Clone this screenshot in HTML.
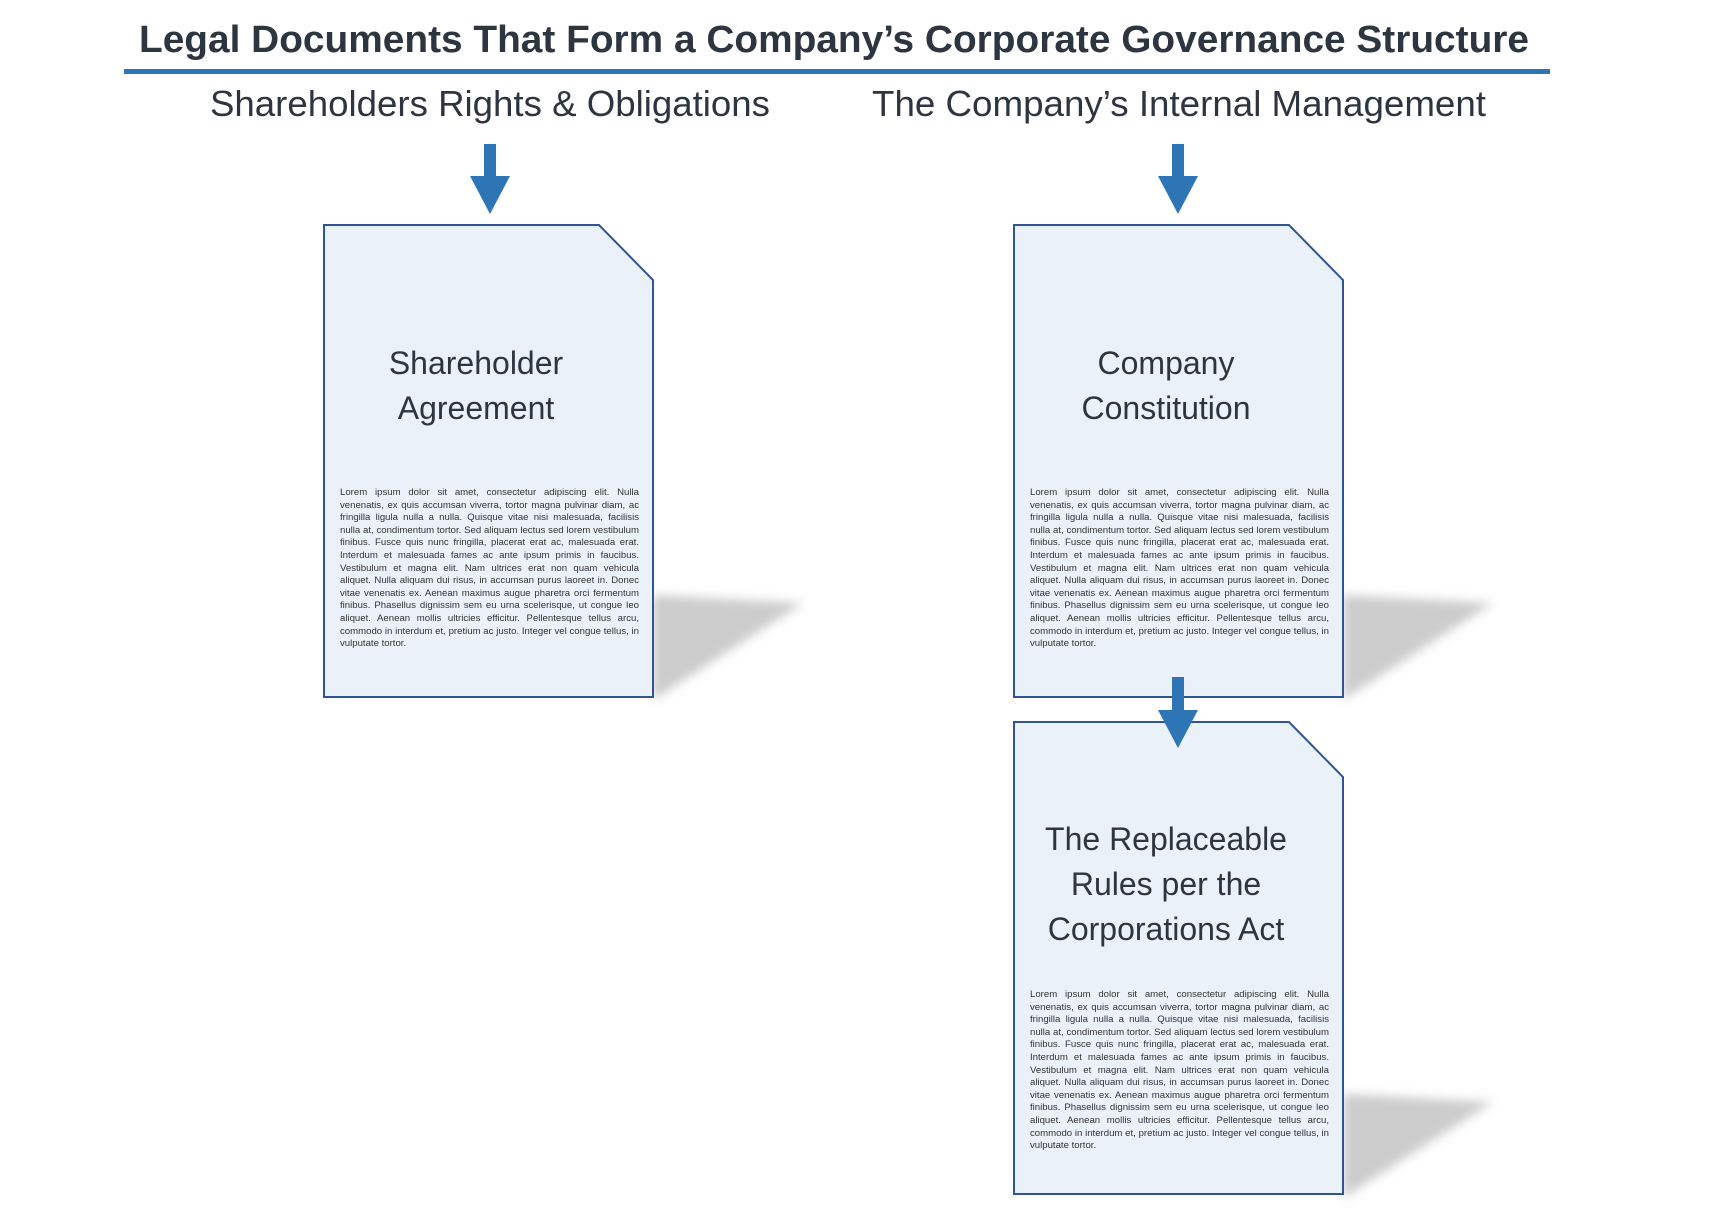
<!DOCTYPE html>
<html><head><meta charset="utf-8"><style>
html,body{margin:0;padding:0;background:#fff;}
#c{position:relative;width:1712px;height:1227px;overflow:hidden;font-family:"Liberation Sans",sans-serif;}
svg{position:absolute;left:0;top:0;}
.body{position:absolute;width:299px;font-size:9.6px;line-height:12.6px;text-align:justify;color:#333;}
</style></head><body><div id="c">
<svg width="1712" height="1227" viewBox="0 0 1712 1227">
<defs>
<filter id="bl" x="-20%" y="-20%" width="140%" height="140%"><feGaussianBlur stdDeviation="5"/></filter>
</defs>
<text x="834" y="52" text-anchor="middle" font-size="38" font-weight="bold" fill="#2d3540" textLength="1390" lengthAdjust="spacingAndGlyphs">Legal Documents That Form a Company’s Corporate Governance Structure</text>
<rect x="124" y="69" width="1426" height="5" fill="#2e75b6"/>
<text x="490" y="116" text-anchor="middle" font-size="36" fill="#2d3540" textLength="560" lengthAdjust="spacingAndGlyphs">Shareholders Rights &amp; Obligations</text>
<text x="1179" y="116" text-anchor="middle" font-size="36" fill="#2d3540" textLength="614" lengthAdjust="spacingAndGlyphs">The Company’s Internal Management</text>
<g fill="#2e75b6">
<polygon points="484,144 496,144 496,176 510,176 490,214 470,176 484,176"/>
<polygon points="1172,144 1184,144 1184,176 1198,176 1178,214 1158,176 1172,176"/>
</g>
<g filter="url(#bl)" fill="#cccccc">
<polygon points="653,595 803,603 653,700"/>
<polygon points="1343,595 1493,603 1343,700"/>
<polygon points="1343,1094 1493,1102 1343,1198"/>
</g>
<g fill="#eaf1f8" stroke="#2f5597" stroke-width="2">
<polygon points="324,225 599,225 653,280 653,697 324,697"/>
<polygon points="1014,225 1289,225 1343,280 1343,697 1014,697"/>
<polygon points="1014,722 1289,722 1343,777 1343,1194 1014,1194"/>
</g>
<polygon fill="#2e75b6" points="1172,677 1184,677 1184,710 1198,710 1178,748 1158,710 1172,710"/>
<g font-size="32" fill="#2d3540" text-anchor="middle">
<text x="476" y="374">Shareholder</text>
<text x="476" y="419">Agreement</text>
<text x="1166" y="374">Company</text>
<text x="1166" y="419">Constitution</text>
<text x="1166" y="850">The Replaceable</text>
<text x="1166" y="895">Rules per the</text>
<text x="1166" y="940">Corporations Act</text>
</g>
</svg>
<div class="body" style="left:340px;top:487px;">Lorem ipsum dolor sit amet, consectetur adipiscing elit. Nulla venenatis, ex quis accumsan viverra, tortor magna pulvinar diam, ac fringilla ligula nulla a nulla. Quisque vitae nisi malesuada, facilisis nulla at, condimentum tortor. Sed aliquam lectus sed lorem vestibulum finibus. Fusce quis nunc fringilla, placerat erat ac, malesuada erat. Interdum et malesuada fames ac ante ipsum primis in faucibus. Vestibulum et magna elit. Nam ultrices erat non quam vehicula aliquet. Nulla aliquam dui risus, in accumsan purus laoreet in. Donec vitae venenatis ex. Aenean maximus augue pharetra orci fermentum finibus. Phasellus dignissim sem eu urna scelerisque, ut congue leo aliquet. Aenean mollis ultricies efficitur. Pellentesque tellus arcu, commodo in interdum et, pretium ac justo. Integer vel congue tellus, in vulputate tortor.</div>
<div class="body" style="left:1030px;top:487px;">Lorem ipsum dolor sit amet, consectetur adipiscing elit. Nulla venenatis, ex quis accumsan viverra, tortor magna pulvinar diam, ac fringilla ligula nulla a nulla. Quisque vitae nisi malesuada, facilisis nulla at, condimentum tortor. Sed aliquam lectus sed lorem vestibulum finibus. Fusce quis nunc fringilla, placerat erat ac, malesuada erat. Interdum et malesuada fames ac ante ipsum primis in faucibus. Vestibulum et magna elit. Nam ultrices erat non quam vehicula aliquet. Nulla aliquam dui risus, in accumsan purus laoreet in. Donec vitae venenatis ex. Aenean maximus augue pharetra orci fermentum finibus. Phasellus dignissim sem eu urna scelerisque, ut congue leo aliquet. Aenean mollis ultricies efficitur. Pellentesque tellus arcu, commodo in interdum et, pretium ac justo. Integer vel congue tellus, in vulputate tortor.</div>
<div class="body" style="left:1030px;top:989px;">Lorem ipsum dolor sit amet, consectetur adipiscing elit. Nulla venenatis, ex quis accumsan viverra, tortor magna pulvinar diam, ac fringilla ligula nulla a nulla. Quisque vitae nisi malesuada, facilisis nulla at, condimentum tortor. Sed aliquam lectus sed lorem vestibulum finibus. Fusce quis nunc fringilla, placerat erat ac, malesuada erat. Interdum et malesuada fames ac ante ipsum primis in faucibus. Vestibulum et magna elit. Nam ultrices erat non quam vehicula aliquet. Nulla aliquam dui risus, in accumsan purus laoreet in. Donec vitae venenatis ex. Aenean maximus augue pharetra orci fermentum finibus. Phasellus dignissim sem eu urna scelerisque, ut congue leo aliquet. Aenean mollis ultricies efficitur. Pellentesque tellus arcu, commodo in interdum et, pretium ac justo. Integer vel congue tellus, in vulputate tortor.</div>
</div></body></html>
